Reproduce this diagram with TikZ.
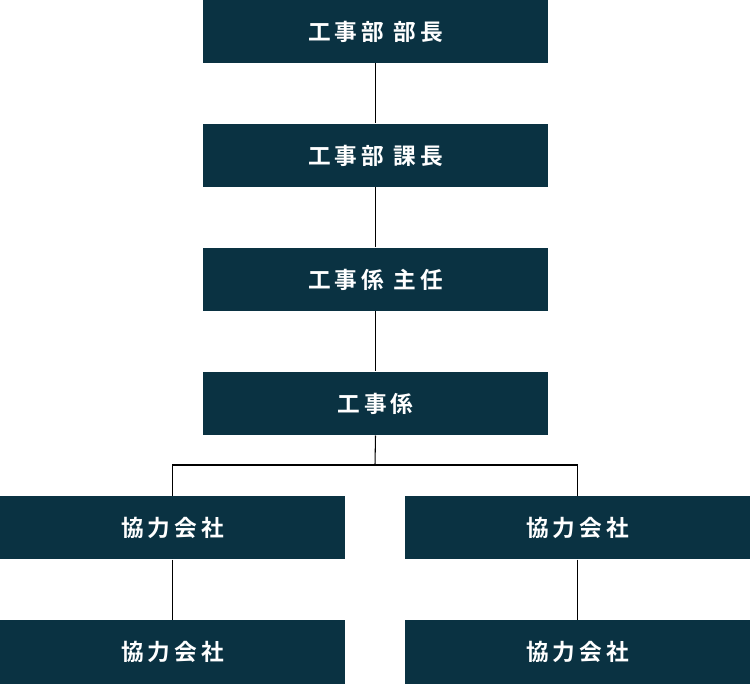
\documentclass[tikz,border=0pt]{standalone}
\usepackage{fontspec}
\newfontfamily\jpfont[LetterSpace=18]{Noto Sans CJK JP Bold}
\usetikzlibrary{positioning}
\definecolor{boxteal}{HTML}{0A3242}
\tikzset{
  post/.style={fill=boxteal,text=white,minimum width=258.75pt,minimum height=47.6pt,
    inner sep=0pt,font=\jpfont\fontsize{17}{20}\selectfont},
  link/.style={black,line width=0.8pt}
}
\begin{document}
\begin{tikzpicture}[x=0.75pt,y=-0.75pt]
\useasboundingbox (0,0) rectangle (750,684);
% main column
\node[post] (bucho) at (375.5,31.5) {工事部 部長};
\node[post] (kacho) at (375.5,155.5) {工事部 課長};
\node[post] (shunin) at (375.5,279.5) {工事係 主任};
\node[post] (kakari) at (375.5,403.5) {工事係};
% partner companies
\node[post] (leftA) at (172.5,527.5) {協力会社};
\node[post] (rightA) at (577.5,527.5) {協力会社};
\node[post] (leftB) at (172.5,652) {協力会社};
\node[post] (rightB) at (577.5,652) {協力会社};
\coordinate (fork) at (375,465);
\draw[link] (bucho) -- (kacho);
\draw[link] (kacho) -- (shunin);
\draw[link] (shunin) -- (kakari);
\draw[link] (kakari.south) -- (fork);
\draw[link] (fork) -| (leftA.north);
\draw[link] (fork) -| (rightA.north);
\draw[link] (leftA) -- (leftB);
\draw[link] (rightA) -- (rightB);
\end{tikzpicture}
\end{document}
